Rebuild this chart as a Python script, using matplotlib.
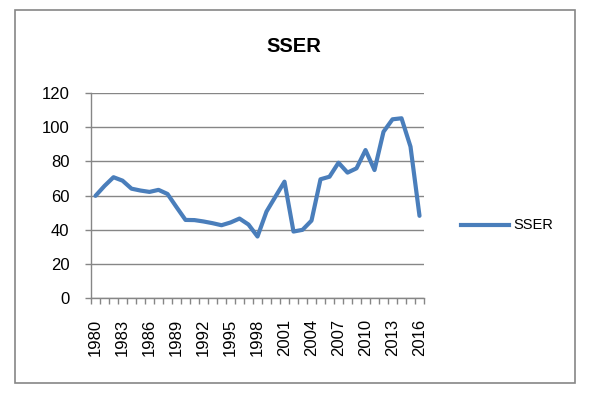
import matplotlib
matplotlib.use('Agg')
from matplotlib import pyplot as plt
from matplotlib.patches import Rectangle
from matplotlib.lines import Line2D

plt.rcParams['font.family'] = ['Liberation Sans', 'DejaVu Sans']

# data
years = list(range(1980, 2017))
sser = [59.8, 65.6, 70.7, 68.7, 64.0, 62.9, 62.1, 63.3, 60.9, 53.2,
        45.7, 45.6, 44.8, 43.8, 42.6, 44.2, 46.5, 43.0, 36.0, 50.6,
        59.4, 68.1, 38.9, 39.9, 45.3, 69.5, 71.0, 79.2, 73.4, 75.9,
        86.6, 74.9, 97.3, 104.6, 105.2, 88.6, 48.1]
yticks = [0, 20, 40, 60, 80, 100, 120]

grey = '#868686'
blue = '#4A7EBB'

fig = plt.figure(figsize=(5.9, 3.95), dpi=100)
W, H = 590, 395

# chart border
fig.patches.append(Rectangle((15 / W, 1 - 383 / H), 560 / W, 373 / H,
                             transform=fig.transFigure, fill=False,
                             edgecolor=grey, linewidth=1.2))

ax = fig.add_axes([91 / W, 1 - 298 / H, 333 / W, 205 / H])
x = list(range(len(years)))
ax.plot(x, sser, color=blue, linewidth=3, solid_joinstyle='round',
        solid_capstyle='round', zorder=3)

ax.set_xlim(-0.5, len(years) - 0.5)
ax.set_ylim(0, 120)
ax.set_yticks(yticks)
ax.set_yticklabels([str(v) for v in yticks], fontsize=12)
ax.yaxis.grid(True, color=grey, linewidth=1)
ax.set_axisbelow(True)

ax.set_xticks(x[::3])
ax.set_xticklabels([str(y) for y in years[::3]], rotation=90, fontsize=12)
ax.set_xticks([i - 0.5 for i in range(len(years) + 1)], minor=True)
ax.tick_params(axis='x', which='major', length=0, pad=15)
ax.tick_params(axis='x', which='minor', length=4.5, color=grey, width=1)
ax.tick_params(axis='y', length=4.5, color=grey, width=1, pad=11)

for s in ['top', 'right']:
    ax.spines[s].set_visible(False)
for s in ['left', 'bottom']:
    ax.spines[s].set_color(grey)
    ax.spines[s].set_linewidth(1)

fig.text(294 / W, 1 - 47 / H, 'SSER', fontsize=14.5, fontweight='bold',
         ha='center', va='center')

# legend
fig.lines.append(Line2D([461 / W, 509 / W], [1 - 225 / H, 1 - 225 / H],
                        transform=fig.transFigure, color=blue, linewidth=3))
fig.text(513 / W, 1 - 225 / H, 'SSER', fontsize=10.5, ha='left', va='center')

fig.savefig('out.png', dpi=100)
